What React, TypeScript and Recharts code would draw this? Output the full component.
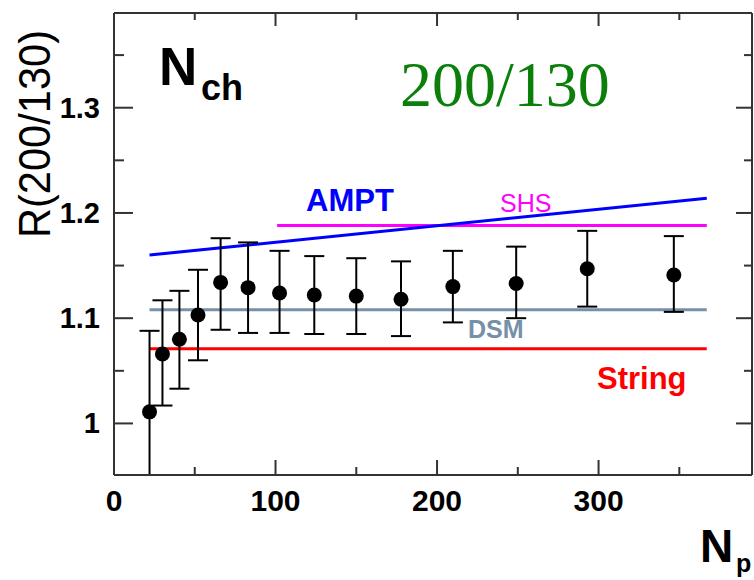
import { ComposedChart, Scatter, Line, XAxis, YAxis, ErrorBar } from 'recharts'

// data
const npart = [22, 30, 40.5, 52, 66, 83, 102.5, 124, 150, 177.7, 209.8, 249, 293, 346.6]
const ratio = [1.011, 1.066, 1.08, 1.103, 1.134, 1.129, 1.124, 1.122, 1.121, 1.118, 1.13, 1.133, 1.147, 1.141]
const errUp = [0.077, 0.051, 0.046, 0.043, 0.042, 0.043, 0.04, 0.037, 0.036, 0.036, 0.034, 0.035, 0.036, 0.037]
// first point's lower bar runs off the frame; only the visible part is kept
const errDown = [0.06, 0.049, 0.047, 0.043, 0.045, 0.043, 0.038, 0.037, 0.036, 0.035, 0.034, 0.033, 0.036, 0.035]

const amptX = [22, 367]
const amptY = [1.16, 1.214]
const shsX = [101, 367]
const shsY = [1.188, 1.188]
const dsmX = [22, 367]
const dsmY = [1.108, 1.108]
const stringX = [22, 367]
const stringY = [1.071, 1.071]

const xTicks = [0, 50, 100, 150, 200, 250, 300, 350]
const yTicks = [1, 1.05, 1.1, 1.15, 1.2, 1.25, 1.3, 1.35]

const points = npart.map((x, i) => ({ x, y: ratio[i], err: [errDown[i], errUp[i]] }))
const toLine = (xs: number[], ys: number[]) => xs.map((x, i) => ({ x, y: ys[i] }))

const SANS = '"Liberation Sans", Arial, sans-serif'
const AXIS = '#333'

const isMajorX = (v: number) => v % 100 === 0
const isMajorY = (v: number) => Math.abs(v * 10 - Math.round(v * 10)) < 1e-6

function BottomTick(props: any) {
  const { x, y, payload } = props
  const major = isMajorX(payload.value)
  return (
    <g>
      <line x1={x} y1={y} x2={x} y2={y - (major ? 15 : 8)} stroke={AXIS} strokeWidth={2} />
      {major && (
        <text x={x} y={y + 36} textAnchor="middle" fontFamily={SANS} fontWeight="bold" fontSize={30} fill="#000">
          {payload.value}
        </text>
      )}
    </g>
  )
}

function TopTick(props: any) {
  const { x, y, payload } = props
  const major = isMajorX(payload.value)
  return <line x1={x} y1={y} x2={x} y2={y + (major ? 13 : 7)} stroke={AXIS} strokeWidth={2} />
}

function LeftTick(props: any) {
  const { x, y, payload } = props
  const major = isMajorY(payload.value)
  return (
    <g>
      <line x1={x} y1={y} x2={x + (major ? 19 : 10)} y2={y} stroke={AXIS} strokeWidth={2} />
      {major && (
        <text x={x - 14} y={y + 10} textAnchor="end" fontFamily={SANS} fontWeight="bold" fontSize={29} fill="#000">
          {payload.value}
        </text>
      )}
    </g>
  )
}

function RightTick(props: any) {
  const { x, y, payload } = props
  const major = isMajorY(payload.value)
  return <line x1={x} y1={y} x2={x - (major ? 16 : 8)} y2={y} stroke={AXIS} strokeWidth={2} />
}

const Dot = (props: any) => <circle cx={props.cx} cy={props.cy} r={7.5} fill="#000" />

export default function App() {
  return (
    <div style={{ position: 'absolute', left: 0, top: 0, width: 754, height: 580, background: '#fff' }}>
      <ComposedChart width={754} height={580} margin={{ top: 12, right: 1, bottom: 0, left: 0 }}>
        <XAxis
          type="number"
          dataKey="x"
          domain={[0, 395]}
          ticks={xTicks}
          allowDataOverflow
          height={105}
          tickSize={0}
          tickMargin={0}
          tick={<BottomTick />}
          axisLine={{ stroke: AXIS, strokeWidth: 2 }}
        />
        <XAxis
          xAxisId="top"
          orientation="top"
          type="number"
          dataKey="x"
          domain={[0, 395]}
          ticks={xTicks}
          allowDataOverflow
          height={1}
          tickSize={0}
          tickMargin={0}
          tick={<TopTick />}
          axisLine={{ stroke: AXIS, strokeWidth: 2 }}
        />
        <YAxis
          type="number"
          domain={[0.951, 1.39]}
          ticks={yTicks}
          allowDataOverflow
          width={114}
          tickSize={0}
          tickMargin={0}
          tick={<LeftTick />}
          axisLine={{ stroke: AXIS, strokeWidth: 2 }}
        />
        <YAxis
          yAxisId="right"
          orientation="right"
          type="number"
          domain={[0.951, 1.39]}
          ticks={yTicks}
          allowDataOverflow
          width={1}
          tickSize={0}
          tickMargin={0}
          tick={<RightTick />}
          axisLine={{ stroke: AXIS, strokeWidth: 2 }}
        />
        <Line data={toLine(stringX, stringY)} dataKey="y" stroke="#ff0000" strokeWidth={3} dot={false} isAnimationActive={false} />
        <Line data={toLine(dsmX, dsmY)} dataKey="y" stroke="#7590a8" strokeWidth={3} dot={false} isAnimationActive={false} />
        <Line data={toLine(shsX, shsY)} dataKey="y" stroke="#ff00ff" strokeWidth={3} dot={false} isAnimationActive={false} />
        <Line data={toLine(amptX, amptY)} dataKey="y" stroke="#0000ff" strokeWidth={3} dot={false} isAnimationActive={false} />
        <Scatter data={points} dataKey="y" shape={<Dot />} isAnimationActive={false}>
          <ErrorBar dataKey="err" direction="y" width={10} stroke="#000" strokeWidth={2} />
        </Scatter>
      </ComposedChart>
      <svg width={754} height={580} style={{ position: 'absolute', left: 0, top: 0, pointerEvents: 'none' }}>
        <text x={50} y={134} transform="rotate(-90 50 134)" textAnchor="middle" fontFamily={SANS} fontSize={45} textLength={208} lengthAdjust="spacingAndGlyphs" fill="#000">
          R(200/130)
        </text>
        <text x={159} y={85} fontFamily={SANS} fontWeight="bold" fontSize={53} fill="#000">N</text>
        <text x={201} y={100} fontFamily={SANS} fontWeight="bold" fontSize={36} fill="#000">ch</text>
        <text x={400} y={106} fontFamily='"Liberation Serif", "Times New Roman", serif' fontSize={64} fill="#0a7f0a">200/130</text>
        <text x={306} y={211} fontFamily={SANS} fontWeight="bold" fontSize={31} fill="#0000ff">AMPT</text>
        <text x={500} y={212} fontFamily={SANS} fontSize={25} fill="#ff00ff">SHS</text>
        <text x={468} y={338} fontFamily={SANS} fontWeight="bold" fontSize={25} fill="#7590a8">DSM</text>
        <text x={597} y={389} fontFamily={SANS} fontWeight="bold" fontSize={31} fill="#ff0000">String</text>
        <text x={700} y={562} fontFamily={SANS} fontWeight="bold" fontSize={46} fill="#000">N</text>
        <text x={736} y={572} fontFamily={SANS} fontWeight="bold" fontSize={25} fill="#000">p</text>
      </svg>
    </div>
  )
}
